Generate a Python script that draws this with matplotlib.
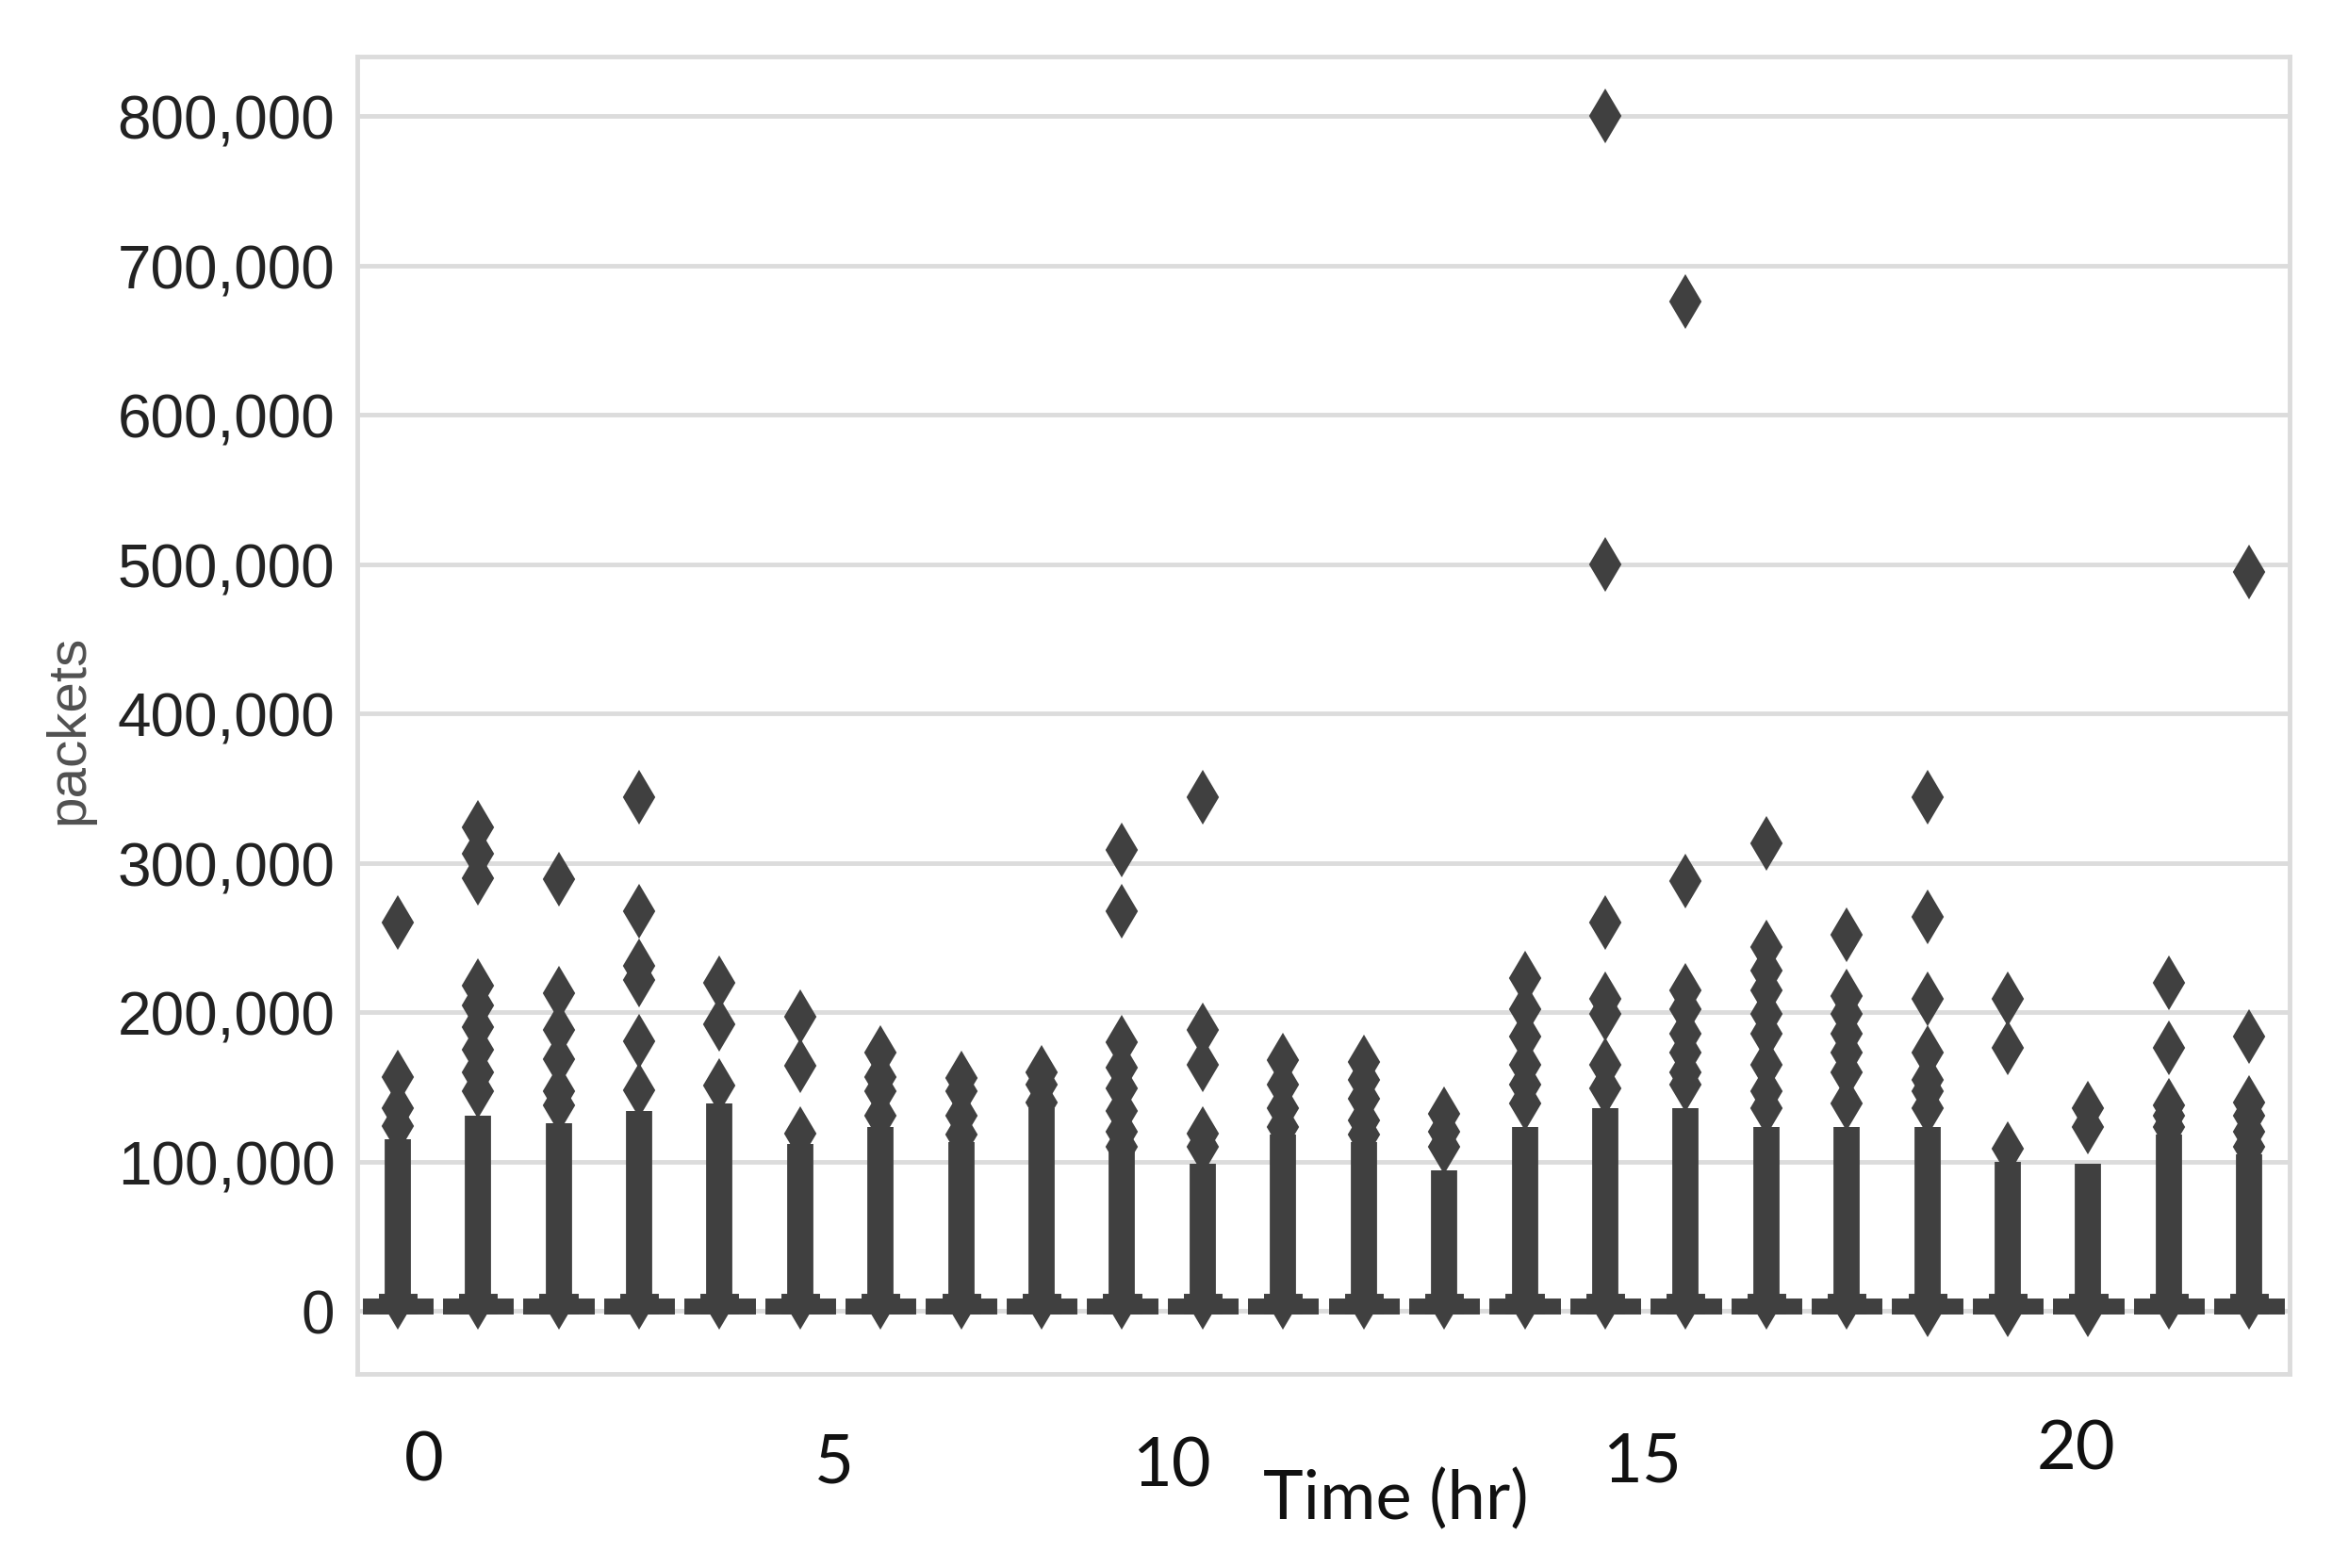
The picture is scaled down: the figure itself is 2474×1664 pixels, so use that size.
import matplotlib
matplotlib.use("Agg")
import matplotlib.pyplot as plt
from matplotlib.ticker import FuncFormatter
from matplotlib.transforms import blended_transform_factory

# hours on the x axis (categorical 0..23)
hours = [0, 1, 2, 3, 4, 5, 6, 7, 8, 9, 10, 11, 12, 13, 14, 15, 16, 17, 18, 19, 20, 21, 22, 23]

# box statistics (packets) - boxes are squashed right at zero
box_q1 = [0, 0, 0, 0, 0, 0, 0, 0, 0, 0, 0, 0, 0, 0, 0, 0, 0, 0, 0, 0, 0, 0, 0, 0]
box_med = [800, 800, 800, 800, 800, 800, 800, 800, 800, 800, 800, 800,
           800, 800, 800, 800, 800, 800, 800, 800, 800, 800, 800, 800]
box_q3 = [6500, 6500, 6500, 6500, 6500, 6500, 6500, 6500, 6500, 6500, 6500, 6500,
          6500, 6500, 6500, 6500, 6500, 6500, 6500, 6500, 6500, 6500, 6500, 6500]
whis_lo = [0, 0, 0, 0, 0, 0, 0, 0, 0, 0, 0, 0, 0, 0, 0, 0, 0, 0, 0, 0, 0, 0, 0, 0]
whis_hi = [10000, 10000, 10000, 10000, 10000, 10000, 10000, 10000, 10000, 10000, 10000, 10000,
           10000, 10000, 10000, 10000, 10000, 10000, 10000, 10000, 10000, 10000, 10000, 10000]

# range covered by the dense (overlapping) outlier markers
dense_lo = [6000, 6000, 6000, 6000, 6000, 6000, 6000, 6000, 6000, 6000, 6000, 6000,
            6000, 6000, 6000, 6000, 6000, 6000, 6000, 1000, 1000, 1000, 6000, 6000]
dense_hi = [115000, 131000, 126000, 134000, 139000, 112000, 123000, 113000, 136000, 107000,
            99000, 118000, 113000, 94000, 123000, 136000, 136000, 123000, 123000, 123000,
            100000, 99000, 118000, 105000]

# individually visible outliers
outliers = [
    [124000, 136000, 157000, 260000],
    [147000, 160000, 175000, 190000, 205000, 218000, 290000, 306000, 324000],
    [138000, 147000, 169000, 188000, 213000, 289000],
    [148000, 181000, 222000, 231000, 268000, 344000],
    [151000, 192000, 220000],
    [119000, 164000, 197000],
    [131000, 147000, 157000, 173000],
    [118000, 131000, 147000, 156000],
    [140000, 152000, 160000],
    [110000, 120000, 134000, 149000, 163000, 180000, 268000, 309000],
    [110000, 119000, 165000, 188000, 344000],
    [123000, 136000, 152000, 168000],
    [118000, 128000, 142000, 155000, 167000],
    [110000, 120000, 132000],
    [139000, 152000, 165000, 184000, 202000, 223000],
    [149000, 165000, 199000, 209000, 260000, 500000, 800000],
    [152000, 160000, 173000, 186000, 202000, 215000, 288000, 676000],
    [136000, 147000, 165000, 186000, 199000, 215000, 228000, 244000, 313000],
    [139000, 160000, 173000, 186000, 199000, 211000, 252000],
    [136000, 147000, 155000, 173000, 209000, 264000, 344000],
    [109000, 176000, 209000],
    [123000, 136000],
    [123000, 131000, 138000, 176000, 220000],
    [110000, 120000, 131000, 140000, 184000, 495000],
]

# pasted-in x labels
xlabels = ["0", "5", "10", "15", "20"]

DARK = "#404040"
LIGHT = "#dcdcdc"

fig = plt.figure(figsize=(24.74, 16.65), dpi=100)
ax = fig.add_axes([0.1532, 0.1237, 0.8286, 0.8397])

stats = []
for i, h in enumerate(hours):
    stats.append(dict(q1=box_q1[i], med=box_med[i], q3=box_q3[i],
                      whislo=whis_lo[i], whishi=whis_hi[i],
                      fliers=sorted([dense_lo[i]] + outliers[i])))

# dense part of the flier columns
ax.vlines(hours, dense_lo, dense_hi, colors=DARK, linewidth=20, capstyle="butt", zorder=2)

lw = 5
ax.bxp(stats, positions=hours, widths=0.8, patch_artist=True, showfliers=True,
       boxprops=dict(facecolor=DARK, edgecolor=DARK, linewidth=lw),
       whiskerprops=dict(color=DARK, linewidth=lw),
       capprops=dict(color=DARK, linewidth=lw),
       medianprops=dict(color=DARK, linewidth=lw),
       flierprops=dict(marker="d", markersize=28, markerfacecolor=DARK,
                       markeredgecolor=DARK, markeredgewidth=1.5, linestyle="none"))

ax.set_xlim(-0.5, 23.5)
ax.set_ylim(-42000, 840000)
ax.set_yticks(range(0, 800001, 100000))
ax.yaxis.set_major_formatter(FuncFormatter(lambda v, p: f"{v:,.0f}"))
ax.set_xticks(hours)
ax.set_xticklabels([])
ax.tick_params(axis="both", length=0)
ax.tick_params(axis="y", labelsize=46, pad=17, labelcolor="#222222")
for lab in ax.get_yticklabels():
    lab.set_fontfamily("Liberation Sans")

ax.grid(axis="y", color=LIGHT, linewidth=3.5)
ax.set_axisbelow(True)
for sp in ax.spines.values():
    sp.set_color(LIGHT)
    sp.set_linewidth(3.5)

ax.set_ylabel("packets", fontsize=42, color="#505050", family="Liberation Sans")
ax.yaxis.set_label_coords(-0.136, 0.49)

# hand-placed x labels (x in category units, y in figure fraction)
trans = blended_transform_factory(ax.transData, fig.transFigure)
lab_x = [0.33, 5.42, 9.61, 15.46, 20.85]
lab_base = [1572, 1574, 1578, 1573, 1560]
for t, xx, yb in zip(xlabels, lab_x, lab_base):
    ax.text(xx, 1 - yb / 1665, t, transform=trans, ha="center", va="baseline",
            fontsize=52, family="Lato", color="#111111")
ax.text(12.40, 1 - 1612 / 1665, "Time (hr)", transform=trans, ha="center", va="baseline",
        fontsize=52, family="Lato", color="#111111")

fig.savefig("out.png", dpi=100)
